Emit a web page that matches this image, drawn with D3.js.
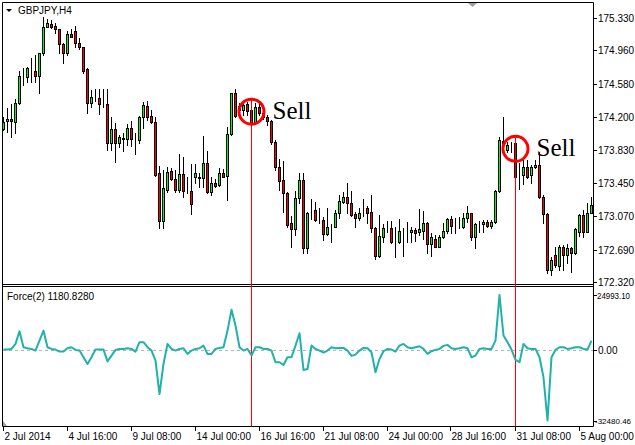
<!DOCTYPE html>
<html><head><meta charset="utf-8">
<script src="https://cdn.jsdelivr.net/npm/d3@7"></script>
<style>html,body{margin:0;padding:0;background:#fff;}svg{display:block;}</style>
</head><body>
<script>
const open = [174.061,174.155,174.178,174.147,174.357,174.660,174.660,174.737,174.729,174.668,
174.927,175.231,175.261,175.239,175.201,175.030,174.927,175.147,175.178,175.048,
174.996,174.745,174.364,174.432,174.414,174.338,174.346,173.908,174.061,173.901,
173.958,173.947,174.072,173.947,173.939,174.198,174.326,174.212,174.147,173.559,
173.019,173.369,173.589,173.491,173.369,173.548,173.361,173.361,173.520,173.513,
173.502,173.673,173.349,173.452,173.426,173.566,173.528,174.007,174.471,174.281,
174.281,174.349,174.281,174.129,174.318,174.247,174.204,174.159,173.919,173.627,
173.483,173.331,172.989,172.921,173.277,173.483,172.704,173.110,173.141,173.027,
173.027,172.867,172.950,172.950,173.110,173.235,173.285,173.217,173.095,173.046,
173.152,173.160,173.121,172.932,172.616,172.836,172.932,172.932,172.779,172.772,
172.893,172.893,172.893,172.913,172.893,172.905,172.989,172.753,172.810,172.722,
172.829,172.901,173.035,172.962,172.962,172.950,173.046,173.103,172.829,172.981,
172.981,173.007,172.962,173.007,173.357,173.931,173.825,173.905,173.908,173.540,
173.540,173.627,173.540,173.627,173.654,173.285,173.095,172.456,172.627,172.502,
172.722,172.627,172.704,172.647,172.893,173.084,172.893,173.110];
const close = [174.147,174.178,174.155,174.357,174.668,174.662,174.756,174.735,174.668,174.927,
175.231,175.269,175.224,175.201,175.030,174.927,175.147,175.117,175.048,174.996,
174.729,174.364,174.426,174.430,174.346,174.336,173.908,174.061,173.908,173.976,
173.956,174.072,173.947,173.945,174.198,174.338,174.198,174.147,173.540,173.019,
173.388,173.577,173.491,173.369,173.548,173.361,173.359,173.209,173.559,173.511,
173.673,173.349,173.445,173.414,173.566,173.520,174.007,174.471,174.212,174.326,
174.338,174.273,174.129,174.318,174.243,174.201,174.159,173.919,173.627,173.475,
173.331,172.970,172.921,173.277,173.483,172.704,173.106,173.108,173.027,173.025,
172.864,172.943,172.948,173.110,173.243,173.285,173.217,173.084,173.046,173.103,
173.150,173.110,172.932,172.616,172.844,172.932,172.930,172.779,172.777,172.901,
172.891,172.891,172.913,172.882,172.924,172.989,172.753,172.836,172.722,172.829,
172.901,173.035,172.958,172.960,172.960,173.046,173.103,172.836,172.981,172.979,
173.007,172.962,173.007,173.357,173.939,173.901,173.882,173.903,173.520,173.538,
173.627,173.520,173.627,173.654,173.285,173.095,172.456,172.570,172.513,172.722,
172.627,172.704,172.647,172.921,173.084,172.893,173.110,173.198];
const high = [174.198,174.304,174.349,174.403,174.729,174.760,174.774,174.874,174.908,174.931,
175.338,175.315,175.307,175.276,175.208,175.041,175.185,175.201,175.239,175.098,
175.003,174.756,174.509,174.524,174.517,174.517,174.517,174.198,174.129,173.992,
174.022,174.121,174.159,174.022,174.212,174.375,174.387,174.281,174.198,173.642,
173.597,173.634,173.616,173.597,173.779,173.748,173.520,173.665,173.665,173.559,
173.984,173.817,173.520,173.491,173.616,173.605,174.090,174.478,174.517,174.361,
174.364,174.375,174.320,174.364,174.375,174.281,174.224,174.167,173.939,173.722,
173.703,173.349,173.072,173.361,173.559,173.559,173.121,173.263,173.232,173.163,
173.064,173.160,172.981,173.141,173.312,173.349,173.452,173.361,173.121,173.160,
173.263,173.186,173.312,172.943,173.084,172.981,173.019,173.019,172.950,173.035,
172.932,173.007,172.943,172.932,173.152,173.133,173.007,172.875,172.856,172.856,
172.989,173.046,173.072,173.046,173.057,173.103,173.186,173.110,172.996,173.019,
173.027,173.027,173.027,173.369,173.976,174.204,173.919,173.919,173.919,173.673,
173.711,173.711,173.654,173.711,173.805,173.312,173.103,172.608,172.722,172.741,
172.741,172.753,172.722,172.932,173.090,173.141,173.217,173.292];
const low = [174.053,174.030,173.973,174.019,174.349,174.566,174.603,174.603,174.603,174.471,
174.908,175.224,175.212,175.162,174.927,174.813,174.908,175.110,174.996,174.973,
174.706,174.250,174.315,174.387,174.235,174.312,173.825,173.825,173.691,173.862,
173.817,173.882,173.870,173.779,173.908,174.072,174.167,174.129,173.528,172.932,
172.932,173.349,173.483,173.349,173.349,173.285,173.338,173.095,173.445,173.406,
173.406,173.331,173.312,173.399,173.414,173.513,173.255,173.996,174.198,174.247,
174.224,174.224,174.121,174.121,174.224,174.178,174.110,173.893,173.597,173.369,
173.121,172.943,172.722,172.856,173.217,172.654,172.654,173.035,173.019,172.996,
172.799,172.856,172.779,172.943,173.046,173.217,173.110,173.072,172.943,173.027,
173.072,172.989,172.893,172.579,172.608,172.779,172.893,172.761,172.608,172.761,
172.616,172.779,172.779,172.791,172.856,172.807,172.647,172.620,172.715,172.715,
172.818,172.882,172.882,172.882,172.932,172.932,173.007,172.799,172.704,172.893,
172.893,172.950,172.932,172.996,173.349,173.870,173.805,173.805,173.483,173.377,
173.437,173.502,173.445,173.616,173.274,172.996,172.419,172.399,172.494,172.456,
172.456,172.540,172.437,172.639,172.844,172.836,172.890,173.103];
const force = [0,0,300,2600,8400,1070,610,300,-460,4100,
8700,1070,300,0,-920,-920,610,1070,-150,-460,
-3500,-6600,-3500,0,0,0,-5400,-2750,-150,300,
300,610,300,-920,3370,3370,1070,-460,-5050,-20350,
-6600,2600,300,-460,300,610,-2000,-460,300,610,
1840,-2000,-2000,300,770,1070,8700,18200,11000,1070,
-460,300,-2750,1070,1070,300,300,-460,-5800,-5800,
-7050,-3500,-3500,1840,7500,-9350,-8900,1840,300,-460,
-1380,-460,1070,610,770,770,-460,-2900,-2300,-460,
770,610,-1230,-10400,-4300,-770,300,0,-920,1840,
2600,1070,610,1070,1530,300,-2000,-770,-150,300,
1690,2150,610,300,610,1070,610,-3500,-2750,300,
610,300,300,4100,24993.1,6400,3370,0,-4750,-5800,
2600,610,300,300,-3500,-12700,-32480.46,-3500,-150,1070,
1070,300,610,1070,1070,300,0,4100];
const priceTicks = [175.330,174.960,174.580,174.200,173.830,173.450,173.070,172.690,172.320];
const forceTicks = [24993.10, 0, -32480.46];
const forceTickLabels = ["24993.10","0.00","-32480.46"];
const timeTickIdx = [0,16,32,48,64,80,96,112,128,144];
const timeTickLabels = ["2 Jul 2014","4 Jul 16:00","9 Jul 08:00","14 Jul 00:00","16 Jul 16:00","21 Jul 08:00","24 Jul 00:00","28 Jul 16:00","31 Jul 08:00","5 Aug 00:00"];
const signalIdx = [62,128];
const signalPrice = [174.262,173.838];
const signalLabel = ["Sell","Sell"];
const symbolTitle = "GBPJPY,H4";
const indicatorTitle = "Force(2) 1180.8280";

const W=635,H=445;
const svg=d3.select("body").append("svg").attr("width",W).attr("height",H);
const font="'Liberation Sans', Arial, sans-serif";
const n=open.length;
const x=d3.scaleLinear().domain([0,n-1]).range([3.5,3.5+4*(n-1)]);
const y=d3.scaleLinear().domain([172.320,175.330]).range([282,18]);
const yf=d3.scaleLinear().domain([-32480.46,24993.10]).range([420.5,295]);
const L=2.5,R=593.5,T1=2.5,B1=284.5,T2=286.5,B2=426.5;

svg.append("defs").call(d=>{
  d.append("clipPath").attr("id","cm").append("rect").attr("x",3).attr("y",3).attr("width",590).attr("height",281);
  d.append("clipPath").attr("id","cf").append("rect").attr("x",3).attr("y",287).attr("width",590).attr("height",139);
});

// frames
const fr=svg.append("g").attr("stroke","#000").attr("stroke-width",1).attr("fill","none");
fr.append("line").attr("x1",L).attr("x2",R).attr("y1",T1).attr("y2",T1);
fr.append("line").attr("x1",L).attr("x2",R).attr("y1",B1).attr("y2",B1);
fr.append("line").attr("x1",L).attr("x2",R).attr("y1",T2).attr("y2",T2);
fr.append("line").attr("x1",L).attr("x2",R).attr("y1",B2).attr("y2",B2);
fr.append("line").attr("x1",L).attr("x2",L).attr("y1",T1).attr("y2",B2);
fr.append("line").attr("x1",R).attr("x2",R).attr("y1",T1).attr("y2",B2);

// zero line
svg.append("line").attr("x1",3).attr("x2",593).attr("y1",Math.round(yf(0))+0.5).attr("y2",Math.round(yf(0))+0.5)
  .attr("stroke","#b4b4b4").attr("stroke-dasharray","3,3");

// candles
const gc=svg.append("g").attr("clip-path","url(#cm)");
const idx=d3.range(n);
const snap=v=>Math.round(v)+0.5;
gc.selectAll("line.w").data(idx).enter().append("line")
  .attr("x1",i=>x(i)).attr("x2",i=>x(i))
  .attr("y1",i=>Math.round(y(high[i]))).attr("y2",i=>Math.round(y(low[i]))+1)
  .attr("stroke","#000").attr("stroke-width",1);
gc.selectAll("rect.b").data(idx).enter().append("rect")
  .attr("x",i=>x(i)-1).attr("width",2)
  .attr("y",i=>snap(y(Math.max(open[i],close[i]))))
  .attr("height",i=>Math.max(0,Math.round(y(Math.min(open[i],close[i])))-Math.round(y(Math.max(open[i],close[i])))))
  .attr("fill",i=>close[i]>open[i]?"#00ff00":(close[i]<open[i]?"#ff0000":"#000"))
  .attr("stroke","#000").attr("stroke-width",1);

// signal vertical lines
svg.selectAll("line.sig").data(signalIdx).enter().append("line")
  .attr("x1",(d)=>x(d)).attr("x2",(d)=>x(d))
  .attr("y1",(d,k)=>y(signalPrice[k])-13).attr("y2",B2)
  .attr("stroke","#ff0000").attr("stroke-width",1);

// force line
svg.append("path").attr("clip-path","url(#cf)")
  .attr("d",d3.line().x((d,i)=>x(i)).y(d=>yf(d))(force))
  .attr("fill","none").attr("stroke","#20b2aa").attr("stroke-width",2).attr("stroke-linejoin","round");

// circles & labels
svg.selectAll("circle.sig").data(signalIdx).enter().append("circle")
  .attr("cx",d=>x(d)).attr("cy",(d,k)=>y(signalPrice[k])).attr("r",12.5)
  .attr("fill","none").attr("stroke","#ff0000").attr("stroke-width",3);
svg.selectAll("text.sig").data(signalIdx).enter().append("text")
  .attr("x",d=>x(d)+21).attr("y",(d,k)=>y(signalPrice[k])+7)
  .attr("font-family","'Liberation Serif','Times New Roman',serif").attr("font-size",25)
  .attr("fill","#000").text((d,k)=>signalLabel[k]);

// price axis
const pa=svg.append("g");
priceTicks.forEach(p=>{
  const yy=Math.round(y(p))+0.5;
  pa.append("line").attr("x1",593).attr("x2",597).attr("y1",yy).attr("y2",yy).attr("stroke","#000");
  pa.append("text").attr("x",598).attr("y",yy).attr("dy","0.35em").attr("font-family",font).attr("font-size",10).text(p.toFixed(3));
});
forceTicks.forEach((p,k)=>{
  const yy=Math.round(yf(p))+0.5;
  pa.append("line").attr("x1",593).attr("x2",597).attr("y1",yy).attr("y2",yy).attr("stroke","#000");
  const lab=forceTickLabels[k];
  const t=pa.append("text").attr("y",yy).attr("dy","0.35em").attr("font-family",font).text(lab);
  if(lab.length>8){ t.attr("x",595).attr("font-size",8); }
  else if(lab.length>6){ t.attr("x",597).attr("font-size",9).attr("textLength",33).attr("lengthAdjust","spacingAndGlyphs"); }
  else { t.attr("x",598).attr("font-size",10); }
});

// time axis
timeTickIdx.forEach((ti,k)=>{
  const xx=Math.round(x(ti))-0.5;
  pa.append("line").attr("x1",xx).attr("x2",xx).attr("y1",427).attr("y2",431).attr("stroke","#000");
  pa.append("text").attr("x",xx+1).attr("y",440).attr("font-family",font).attr("font-size",10).text(timeTickLabels[k]);
});

// titles
svg.append("path").attr("d","M6,9 L12,9 L9,12 Z").attr("fill","#000");
svg.append("text").attr("x",18).attr("y",14).attr("font-family",font).attr("font-size",10).text(symbolTitle);
svg.append("text").attr("x",7).attr("y",300).attr("font-family",font).attr("font-size",10).text(indicatorTitle);
svg.append("path").attr("d","M468,3 L477,3 L472.5,7 Z").attr("fill","#a0a0a0");
svg.append("path").attr("d","M3,421 L3,426 L7,426 Z").attr("fill","#a0a0a0");
</script>
</body></html>
